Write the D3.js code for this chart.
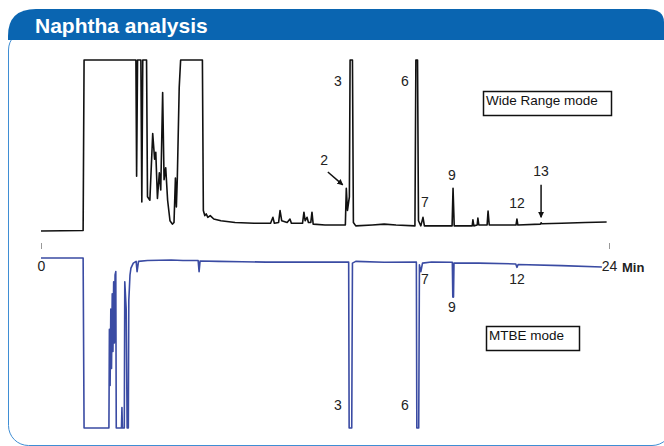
<!DOCTYPE html>
<html>
<head>
<meta charset="utf-8">
<script src="https://cdn.jsdelivr.net/npm/d3@7"></script>
<style>
    body { margin: 0; background: #fff; }
    text { font-family: "Liberation Sans", Arial, sans-serif; }
</style>
</head>
<body>
<script>
// retention time (min) / detector signal
const wideTime = [0, 1.78, 1.82, 4.01, 4.04, 4.08, 4.22, 4.26, 4.30, 4.46, 4.50, 4.60, 4.72, 4.80, 4.85, 4.92, 5.00, 5.06, 5.14, 5.20, 5.27, 5.35, 5.45, 5.55, 5.62, 5.68, 5.72, 5.76, 5.84, 5.90, 6.82, 6.86, 6.92, 6.98, 7.05, 7.15, 7.30, 7.6, 8.2, 9.0, 9.7, 9.80, 9.86, 10.04, 10.10, 10.17, 10.4, 10.52, 10.58, 11.05, 11.11, 11.16, 11.24, 11.30, 11.40, 11.45, 11.50, 12.0, 12.86, 12.90, 12.95, 13.03, 13.06, 13.16, 13.20, 13.30, 14.0, 14.5, 15.0, 15.80, 15.84, 15.91, 15.95, 16.05, 16.14, 16.20, 16.8, 17.37, 17.41, 17.46, 18.0, 18.22, 18.25, 18.29, 18.43, 18.46, 18.50, 18.85, 18.89, 18.94, 19.5, 20.07, 20.11, 20.15, 21.1, 21.13, 21.16, 22.0, 23.0, 23.9]
const wideSignal = [0, 0.3, 100, 100, 32, 100, 100, 17, 100, 100, 20, 18, 57, 42, 46, 19, 34, 24, 81, 30, 37, 18, 6, 4, 5, 31, 14, 31, 84, 100, 100, 12, 9, 10, 8, 9, 7, 6, 5, 4.5, 4.5, 8, 4.5, 5, 12, 6, 5, 7, 4.5, 4.5, 11, 6, 8, 5, 5, 11, 4, 3.5, 3.5, 25, 12, 20, 100, 100, 5, 3, 3.5, 4, 3.5, 3, 100, 100, 6, 3, 8, 3, 3, 3, 25, 3, 3, 3, 6.5, 3, 3.5, 7.6, 3.5, 3.5, 11.7, 3.5, 3.5, 3.5, 7, 3.5, 4, 4.8, 4.2, 4.5, 5, 5.3]

const mtbeTime = [0, 1.78, 1.82, 2.87, 2.89, 2.92, 2.95, 2.98, 3.01, 3.04, 3.07, 3.10, 3.13, 3.16, 3.18, 3.40, 3.42, 3.44, 3.52, 3.54, 3.60, 3.64, 3.69, 3.71, 3.76, 3.80, 3.90, 4.02, 4.06, 4.12, 4.5, 5.5, 6.0, 6.64, 6.68, 6.72, 7.5, 8.5, 9.5, 12.0, 13.00, 13.02, 13.13, 13.16, 13.3, 14.5, 15.86, 15.88, 15.96, 15.99, 16.05, 16.12, 16.5, 17.38, 17.40, 17.43, 17.45, 18.5, 20.06, 20.11, 20.16, 22.0, 23.7]
const mtbeSignal = [0, 0, 100, 100, 42, 75, 30, 65, 21, 55, 14, 50, 10, 8, 100, 100, 88, 100, 100, 14, 30, 100, 100, 25, 10, 6, 3, 2, 8, 2, 1.5, 1.2, 1.5, 1.5, 8, 1.8, 2, 2.2, 2.4, 2.4, 2.4, 100, 100, 3, 2, 2.5, 2.4, 100, 100, 4, 8, 3, 2.4, 2.5, 23, 23, 3, 3, 3.5, 5.5, 3.8, 4.5, 5.3]

const wideLabels = ["3", "6", "2", "7", "9", "12", "13"]
const wideLabelTime = [12.55, 15.38, 11.96, 16.22, 17.36, 20.11, 21.13]
const wideLabelLevel = [88, 88, 41.5, 17, 32.7, 16.4, 35]

const mtbeLabels = ["7", "9", "12", "3", "6"]
const mtbeLabelTime = [16.22, 17.36, 20.11, 12.55, 15.38]
const mtbeLabelLevel = [12.4, 28.8, 12.4, 86.5, 86.5]

const timeTicks = [0, 24]

const w = 664
const h = 446

const svg = d3.select('body')
    .append('svg')
    .attr('width', w)
    .attr('height', h)

const defs = svg.append('defs')
defs.append('marker')
    .attr('id', 'arrow')
    .attr('viewBox', '0 0 10 10')
    .attr('refX', 9)
    .attr('refY', 5)
    .attr('markerWidth', 6)
    .attr('markerHeight', 6)
    .attr('markerUnits', 'userSpaceOnUse')
    .attr('orient', 'auto')
    .append('path')
    .attr('d', 'M0,0 L10,5 L0,10 Z')
    .attr('fill', '#111')

// panel frame + title bar
svg.append('rect')
    .attr('x', 8.5)
    .attr('y', 30)
    .attr('width', 663.5)
    .attr('height', 415.5)
    .attr('rx', 20)
    .attr('fill', 'none')
    .attr('stroke', '#3f8ed4')
    .attr('stroke-width', 1)

svg.append('path')
    .attr('d', 'M8,40 L8,36 Q8,9 36,9 L646,9 Q664,9 664,22 L664,40 Z')
    .attr('fill', '#0a65b1')

svg.append('text')
    .attr('x', 35)
    .attr('y', 33)
    .attr('fill', '#fff')
    .attr('font-size', 21)
    .attr('font-weight', 'bold')
    .text('Naphtha analysis')

const x = d3.scaleLinear().domain([0, 24]).range([41, 609])
const yWide = d3.scaleLinear().domain([0, 100]).range([231, 60])
const yMtbe = d3.scaleLinear().domain([0, 100]).range([258, 428])

// time axis: only two ticks, no domain line
const axis = svg.append('g')
    .attr('transform', 'translate(0,243)')
    .call(d3.axisBottom(x).tickValues(timeTicks).tickSize(6).tickPadding(12).tickFormat(d3.format('d')))
axis.select('.domain').remove()
axis.selectAll('line').attr('stroke', '#999')
axis.selectAll('text')
    .attr('font-size', 14)
    .attr('fill', '#222')
    .style('font-family', '"Liberation Sans", Arial, sans-serif')

svg.append('text')
    .attr('x', 622)
    .attr('y', 272)
    .attr('font-size', 13)
    .attr('font-weight', 'bold')
    .attr('fill', '#222')
    .text('Min')

const wideLine = d3.line()
    .x((d, i) => x(wideTime[i]))
    .y(d => yWide(d))

const mtbeLine = d3.line()
    .x((d, i) => x(mtbeTime[i]))
    .y(d => yMtbe(d))

svg.append('path')
    .datum(mtbeSignal)
    .attr('d', mtbeLine)
    .attr('fill', 'none')
    .attr('stroke', '#3a4ba3')
    .attr('stroke-width', 1.6)
    .attr('stroke-linejoin', 'round')

svg.append('path')
    .datum(wideSignal)
    .attr('d', wideLine)
    .attr('fill', 'none')
    .attr('stroke', '#111')
    .attr('stroke-width', 1.6)
    .attr('stroke-linejoin', 'round')

// peak numbers
svg.append('g')
    .selectAll('text')
    .data(wideLabels)
    .enter()
    .append('text')
    .attr('x', (d, i) => x(wideLabelTime[i]))
    .attr('y', (d, i) => yWide(wideLabelLevel[i]))
    .attr('dy', '0.36em')
    .attr('text-anchor', 'middle')
    .attr('font-size', 14)
    .attr('fill', '#222')
    .text(d => d)

svg.append('g')
    .selectAll('text')
    .data(mtbeLabels)
    .enter()
    .append('text')
    .attr('x', (d, i) => x(mtbeLabelTime[i]))
    .attr('y', (d, i) => yMtbe(mtbeLabelLevel[i]))
    .attr('dy', '0.36em')
    .attr('text-anchor', 'middle')
    .attr('font-size', 14)
    .attr('fill', '#222')
    .text(d => d)

// arrows to peaks 2 and 13
svg.append('line')
    .attr('x1', x(12.12)).attr('y1', yWide(34.5))
    .attr('x2', x(12.75)).attr('y2', yWide(27))
    .attr('stroke', '#111')
    .attr('stroke-width', 1.5)
    .attr('marker-end', 'url(#arrow)')

svg.append('line')
    .attr('x1', x(21.13)).attr('y1', yWide(27))
    .attr('x2', x(21.13)).attr('y2', yWide(8))
    .attr('stroke', '#111')
    .attr('stroke-width', 1.5)
    .attr('marker-end', 'url(#arrow)')

// mode boxes
const box = (bx, by, bw, bh, label) => {
    svg.append('rect')
        .attr('x', bx).attr('y', by)
        .attr('width', bw).attr('height', bh)
        .attr('fill', '#fff')
        .attr('stroke', '#111')
        .attr('stroke-width', 1.5)
    svg.append('text')
        .attr('x', bx + 2.5).attr('y', by + 13)
        .attr('font-size', 13.5)
        .attr('fill', '#111')
        .text(label)
}
box(483.5, 91.5, 128, 24, 'Wide Range mode')
box(486.5, 326.5, 93, 24, 'MTBE mode')
</script>
</body>
</html>
